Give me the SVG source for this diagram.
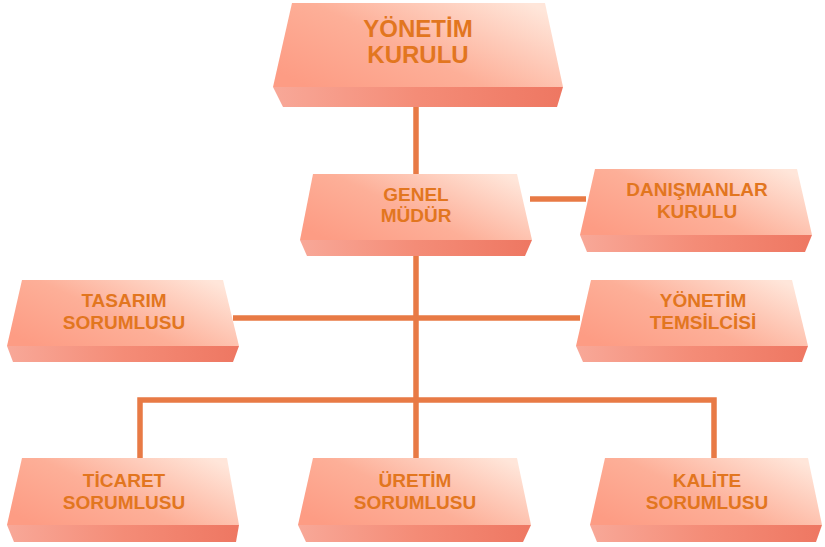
<svg xmlns="http://www.w3.org/2000/svg" width="825" height="547" viewBox="0 0 825 547">
<defs>
<linearGradient id="gf" x1="0" y1="0.8" x2="1" y2="0.2">
<stop offset="0" stop-color="#FD9C84"/>
<stop offset="0.45" stop-color="#FDAF98"/>
<stop offset="1" stop-color="#FFE6DA"/>
</linearGradient>
<linearGradient id="gb" x1="0" y1="0" x2="1" y2="0">
<stop offset="0" stop-color="#F8A898"/>
<stop offset="0.5" stop-color="#F48C77"/>
<stop offset="1" stop-color="#EE7762"/>
</linearGradient>
<style>
.f{fill:url(#gf)}
.b{fill:url(#gb)}
.c{fill:none;stroke:#E87A45;stroke-width:5.5;stroke-linejoin:miter}
text{font-family:"Liberation Sans",Arial,sans-serif;font-weight:bold;fill:#E2761F;text-anchor:middle;font-size:19px}
.big{font-size:24px}
</style>
</defs>
<rect width="825" height="547" fill="#FFFFFF"/>
<g id="connectors">
<path class="c" d="M416,105 V176"/>
<path class="c" d="M416,254 V460"/>
<path class="c" d="M530,199 H586"/>
<path class="c" d="M233,318 H580"/>
<path class="c" d="M140,460 V400 H714 V460"/>
</g>
<g id="yonetim-kurulu">
<polygon class="f" points="292,3 545,3 563,87 273,87"/>
<polygon class="b" points="273,87 563,87 557,107 283,107"/>
<text class="big" x="418" y="37">YÖNETİM</text>
<text class="big" x="418" y="63">KURULU</text>
</g>
<g id="genel-mudur">
<polygon class="f" points="313,174 517,174 532,240 300,240"/>
<polygon class="b" points="300,240 532,240 525,256 307,256"/>
<text x="416" y="201">GENEL</text>
<text x="416" y="222">MÜDÜR</text>
</g>
<g id="danismanlar-kurulu">
<polygon class="f" points="595,169 797,169 812,235 580,235"/>
<polygon class="b" points="580,235 812,235 805,252 587,252"/>
<text x="697" y="196">DANIŞMANLAR</text>
<text x="697" y="218">KURULU</text>
</g>
<g id="tasarim-sorumlusu">
<polygon class="f" points="22,280 223,280 239,346 7,346"/>
<polygon class="b" points="7,346 239,346 233,362 13,362"/>
<text x="124" y="307">TASARIM</text>
<text x="124" y="329">SORUMLUSU</text>
</g>
<g id="yonetim-temsilcisi">
<polygon class="f" points="591,280 792,280 808,346 576,346"/>
<polygon class="b" points="576,346 808,346 802,362 583,362"/>
<text x="703" y="307">YÖNETİM</text>
<text x="703" y="329">TEMSİLCİSİ</text>
</g>
<g id="ticaret-sorumlusu">
<polygon class="f" points="22,458 227,458 239,525 7,525"/>
<polygon class="b" points="7,525 239,525 236,542 14,542"/>
<text x="124" y="487">TİCARET</text>
<text x="124" y="509">SORUMLUSU</text>
</g>
<g id="uretim-sorumlusu">
<polygon class="f" points="313,458 517,458 531,525 298,525"/>
<polygon class="b" points="298,525 531,525 523,542 306,542"/>
<text x="415" y="487">ÜRETİM</text>
<text x="415" y="509">SORUMLUSU</text>
</g>
<g id="kalite-sorumlusu">
<polygon class="f" points="605,458 808,458 822,525 590,525"/>
<polygon class="b" points="590,525 822,525 816,542 597,542"/>
<text x="707" y="487">KALİTE</text>
<text x="707" y="509">SORUMLUSU</text>
</g>
</svg>
